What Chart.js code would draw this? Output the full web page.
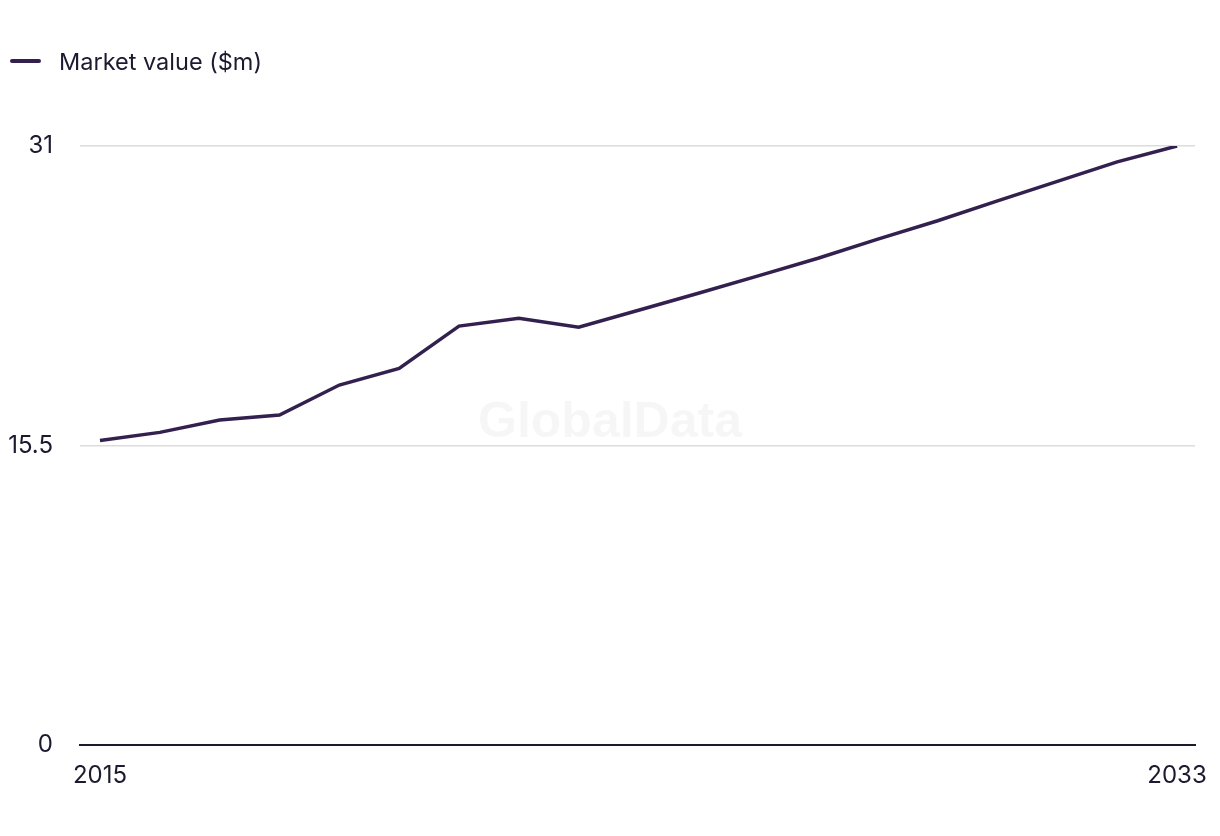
<!DOCTYPE html>
<html>
<head>
<meta charset="utf-8">
<script src="https://cdn.jsdelivr.net/npm/chart.js@4/dist/chart.umd.min.js"></script>
<style>
  html, body { margin: 0; padding: 0; background: #fff; }
  #wrap { position: relative; width: 1220px; height: 836px; }
  #legend {
    position: absolute; left: 10px; top: 47px; height: 28px;
    font-family: Inter, "Liberation Sans", Arial, sans-serif; font-size: 23.5px; color: #1c1a2e;
    display: flex; align-items: center;
  }
  #legend .swatch { width: 31px; height: 4px; border-radius: 2px; background: #33204f; margin-right: 18px; }
</style>
</head>
<body>
<div id="wrap">
  <div id="legend"><span class="swatch"></span><span>Market value ($m)</span></div>
  <canvas id="chart" width="1220" height="836"></canvas>
</div>
<script>
// data
const years = [2015, 2016, 2017, 2018, 2019, 2020, 2021, 2022, 2023, 2024,
               2025, 2026, 2027, 2028, 2029, 2030, 2031, 2032, 2033];
const marketValue = [15.76, 16.18, 16.82, 17.08, 18.63, 19.49, 21.68, 22.08, 21.62, 22.5,
                     23.38, 24.28, 25.19, 26.18, 27.13, 28.16, 29.17, 30.18, 31.0];
const yTicks = [0, 15.5, 31];
const xTicks = [2015, 2033];

const textColor = '#1c1a2e';
const fontFamily = 'Inter, "Liberation Sans", Arial, sans-serif';

const watermark = {
  id: 'watermark',
  beforeDatasetsDraw(chart) {
    const { ctx } = chart;
    ctx.save();
    ctx.font = 'bold 50px "Liberation Sans", Arial, sans-serif';
    ctx.fillStyle = 'rgba(0,0,0,0.035)';
    ctx.textAlign = 'center';
    ctx.textBaseline = 'alphabetic';
    ctx.fillText('GlobalData', chart.width / 2, 437);
    ctx.restore();
  }
};

new Chart(document.getElementById('chart'), {
  type: 'line',
  data: {
    datasets: [{
      label: 'Market value ($m)',
      data: years.map((y, i) => ({ x: y, y: marketValue[i] })),
      borderColor: '#33204f',
      borderWidth: 3.5,
      pointRadius: 0,
      tension: 0,
      fill: false
    }]
  },
  options: {
    responsive: false,
    animation: false,
    layout: { padding: { top: 146, right: 25, left: 0, bottom: 0 } },
    plugins: { legend: { display: false }, tooltip: { enabled: false } },
    scales: {
      x: {
        type: 'linear',
        min: 2014.666,
        max: 2033.3,
        afterBuildTicks(scale) { scale.ticks = xTicks.map(v => ({ value: v })); },
        afterFit(scale) {
          scale.height = 91;
          scale.paddingLeft = 0;
          scale.paddingRight = 0;
        },
        ticks: {
          color: textColor,
          font: { family: fontFamily, size: 24 },
          padding: 16,
          maxRotation: 0,
          callback: v => String(v)
        },
        grid: { display: false, drawTicks: false },
        border: { display: true, color: '#1c1a2e', width: 2 }
      },
      y: {
        min: 0,
        max: 31,
        afterBuildTicks(scale) { scale.ticks = yTicks.map(v => ({ value: v })); },
        afterFit(scale) { scale.width = 80; },
        ticks: {
          color: textColor,
          font: { family: fontFamily, size: 24 },
          padding: 27,
          callback: v => String(v)
        },
        grid: {
          drawTicks: false,
          color: ctx => ctx.tick && ctx.tick.value === 0 ? 'rgba(0,0,0,0)' : '#dcdcdc',
          lineWidth: 1.5
        },
        border: { display: false }
      }
    }
  },
  plugins: [watermark]
});
</script>
</body>
</html>
